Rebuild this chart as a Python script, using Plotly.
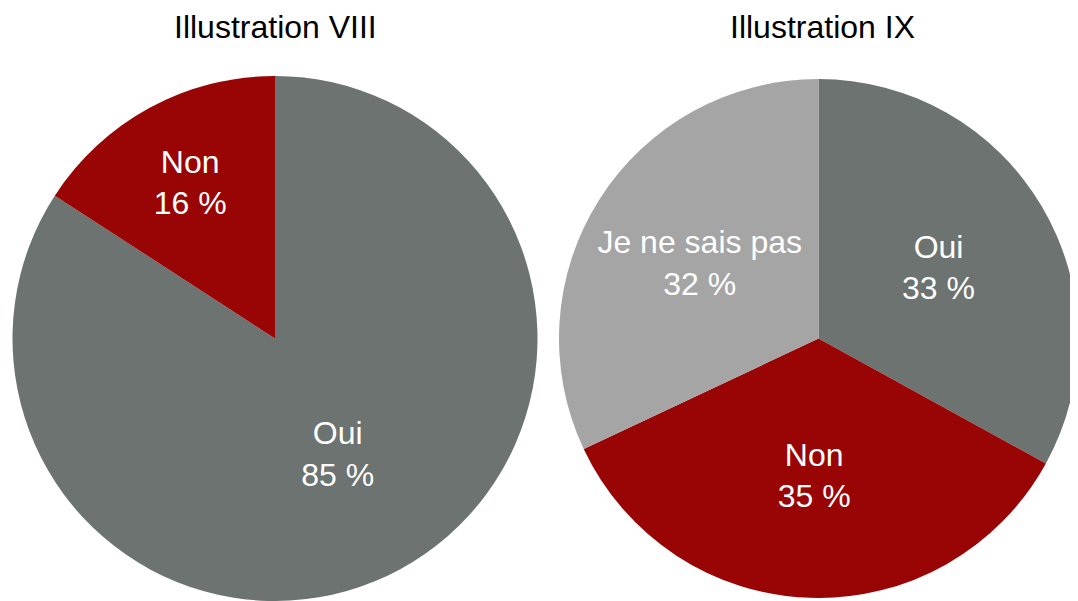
import plotly.graph_objects as go

titles = ["Illustration VIII", "Illustration IX"]

labels_8 = ["Oui", "Non"]
values_8 = [85, 16]
colors_8 = ["#6c7370", "#990505"]

labels_9 = ["Oui", "Non", "Je ne sais pas"]
values_9 = [33, 35, 32]
colors_9 = ["#6c7370", "#990505", "#a5a5a5"]

# page body adds an 8px margin; size the figure so it fits the window
W, H = 1070, 593
top_px = 68
ydom = [0, 1 - top_px / H]
FONT = "Liberation Sans, Arial, sans-serif"

fig = go.Figure()

def add_pie(labels, values, colors, xdom):
    fig.add_trace(go.Pie(
        labels=labels, values=values,
        text=[f"{v} %" for v in values],
        texttemplate="%{label}<br>%{text}",
        textposition="inside", insidetextorientation="horizontal",
        textfont=dict(family=FONT, size=32, color="white"),
        marker=dict(colors=colors, line=dict(width=0)),
        sort=False, direction="clockwise", rotation=0,
        hole=0, showlegend=False,
        domain=dict(x=xdom, y=ydom),
    ))

add_pie(labels_8, values_8, colors_8, [4.5 / W, 529.5 / W])
add_pie(labels_9, values_9, colors_9, [551 / W, 1.0])

for t, x in zip(titles, [267 / W, 814 / W]):
    fig.add_annotation(text=t, x=x, y=1 - 19 / H, xref="paper", yref="paper",
                       showarrow=False, xanchor="center", yanchor="middle",
                       font=dict(family=FONT, size=32, color="black"))

fig.update_layout(width=W, height=H, margin=dict(l=0, r=0, t=0, b=0),
                  paper_bgcolor="white", plot_bgcolor="white")

fig.write_html("out.html")
